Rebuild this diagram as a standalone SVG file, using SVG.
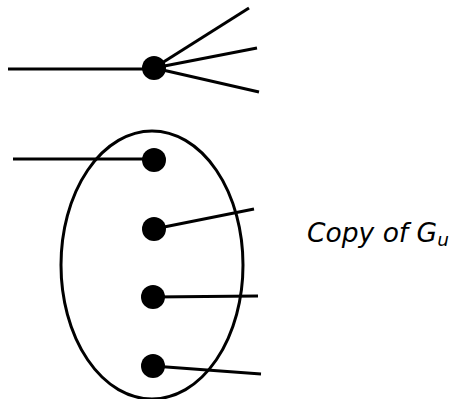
<svg xmlns="http://www.w3.org/2000/svg" width="456" height="399" viewBox="0 0 456 399">
<style>
.e{stroke:#000;stroke-width:3;fill:none;stroke-linecap:butt}
.n{fill:#000}
.t{font-family:"DejaVu Sans",sans-serif;font-style:italic;font-size:26.5px;fill:#000}
</style>
<rect width="456" height="399" fill="#fff"/>
<g id="connectors">
<line class="e" x1="8" y1="69" x2="154" y2="69"/>
<line class="e" x1="154" y1="68" x2="249" y2="8"/>
<line class="e" x1="154" y1="68" x2="257" y2="48"/>
<line class="e" x1="154" y1="68" x2="259" y2="92"/>
<line class="e" x1="13" y1="159" x2="154" y2="159"/>
<line class="e" x1="154" y1="229" x2="254" y2="209"/>
<line class="e" x1="153" y1="297" x2="258" y2="296"/>
<line class="e" x1="153" y1="366" x2="261" y2="374"/>
</g>
<g id="ellipse"><ellipse class="e" cx="152" cy="265" rx="91" ry="134"/></g>
<g id="n0"><circle class="n" cx="154" cy="68" r="12"/></g>
<g id="n1"><circle class="n" cx="154" cy="160" r="12"/></g>
<g id="n2"><circle class="n" cx="154" cy="229" r="12"/></g>
<g id="n3"><circle class="n" cx="153" cy="297" r="12"/></g>
<g id="n4"><circle class="n" cx="153" cy="366" r="12"/></g>
<g id="label"><text class="t" x="307" y="242">Copy of G<tspan font-size="18.5" dy="4">u</tspan></text></g>
</svg>
